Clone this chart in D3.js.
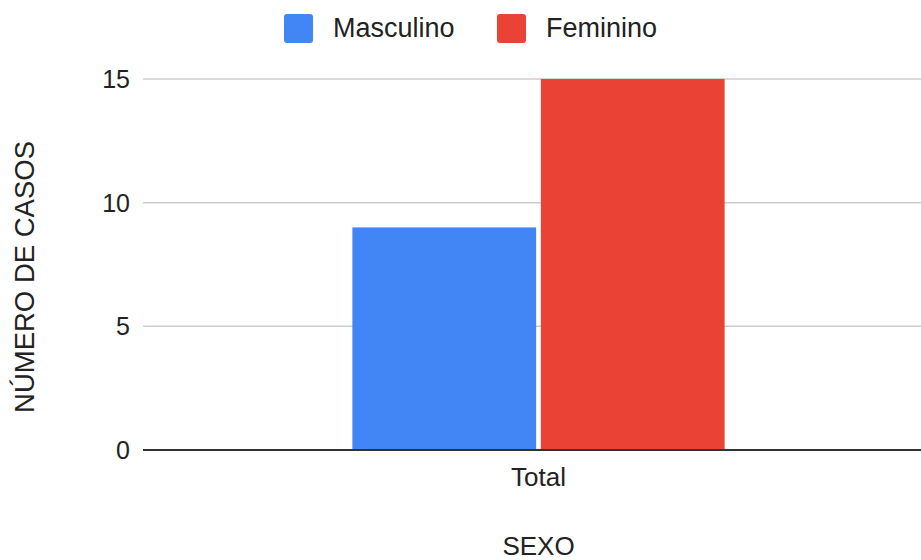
<!DOCTYPE html>
<html>
<head>
<meta charset="utf-8">
<script src="https://cdn.jsdelivr.net/npm/d3@7"></script>
<style>
  body { margin: 0; background: #fff; }
  text { font-family: "Liberation Sans", Arial, sans-serif; fill: #222; }
</style>
</head>
<body>
<script>
// chart data
var categories = ["Total"];
var series = ["Masculino", "Feminino"];
var values = [[9, 15]];          // one row per category, one value per series
var colors = ["#4285F4", "#EA4335"];
var yTicks = [0, 5, 10, 15];

var width = 921;
var height = 560;

var svg = d3.select("body").append("svg")
    .attr("width", width)
    .attr("height", height);

var plotLeft = 143, plotRight = 934, plotTop = 79, plotBottom = 450;

var y = d3.scaleLinear().domain([0, 15]).range([plotBottom, plotTop]);
var x = d3.scaleBand().domain(categories).range([plotLeft, plotRight]).padding(0.36);
var xSub = d3.scaleBand().domain(series).range([0, x.bandwidth()]).paddingInner(0.025);

// gridlines
svg.append("g").selectAll("line")
    .data(yTicks.filter(function(d){ return d > 0; }))
    .enter().append("line")
    .attr("x1", plotLeft).attr("x2", width)
    .attr("y1", function(d){ return y(d); })
    .attr("y2", function(d){ return y(d); })
    .attr("stroke", "#cccccc")
    .attr("stroke-width", 1.5);

// y tick labels
svg.append("g").selectAll("text")
    .data(yTicks)
    .enter().append("text")
    .attr("x", 130)
    .attr("y", function(d){ return y(d); })
    .attr("dy", "0.36em")
    .attr("text-anchor", "end")
    .attr("font-size", 25)
    .text(function(d){ return d; });

// bars
var groups = svg.append("g").selectAll("g")
    .data(categories)
    .enter().append("g")
    .attr("transform", function(d){ return "translate(" + x(d) + ",0)"; });

groups.selectAll("rect")
    .data(function(d, i){ return values[i].map(function(v, j){ return {s: series[j], v: v, c: colors[j]}; }); })
    .enter().append("rect")
    .attr("x", function(d){ return xSub(d.s); })
    .attr("y", function(d){ return y(d.v); })
    .attr("width", xSub.bandwidth())
    .attr("height", function(d){ return y(0) - y(d.v); })
    .attr("fill", function(d){ return d.c; });

// baseline
svg.append("line")
    .attr("x1", plotLeft).attr("x2", width)
    .attr("y1", y(0)).attr("y2", y(0))
    .attr("stroke", "#333333")
    .attr("stroke-width", 2);

// category labels
svg.append("g").selectAll("text")
    .data(categories)
    .enter().append("text")
    .attr("x", function(d){ return x(d) + x.bandwidth() / 2; })
    .attr("y", 486)
    .attr("text-anchor", "middle")
    .attr("font-size", 26)
    .text(function(d){ return d; });

// axis titles
svg.append("text")
    .attr("x", x("Total") + x.bandwidth() / 2)
    .attr("y", 555)
    .attr("text-anchor", "middle")
    .attr("font-size", 26)
    .text("SEXO");

svg.append("text")
    .attr("transform", "translate(34,277) rotate(-90)")
    .attr("text-anchor", "middle")
    .attr("font-size", 27.5)
    .text("NÚMERO DE CASOS");

// legend
var legendX = [284, 497];
var legend = svg.append("g").selectAll("g")
    .data(series)
    .enter().append("g")
    .attr("transform", function(d, i){ return "translate(" + legendX[i] + ",14)"; });

legend.append("rect")
    .attr("width", 29).attr("height", 29)
    .attr("rx", 3)
    .attr("fill", function(d, i){ return colors[i]; });

legend.append("text")
    .attr("x", 49)
    .attr("y", 23)
    .attr("font-size", 27)
    .text(function(d){ return d; });
</script>
</body>
</html>
